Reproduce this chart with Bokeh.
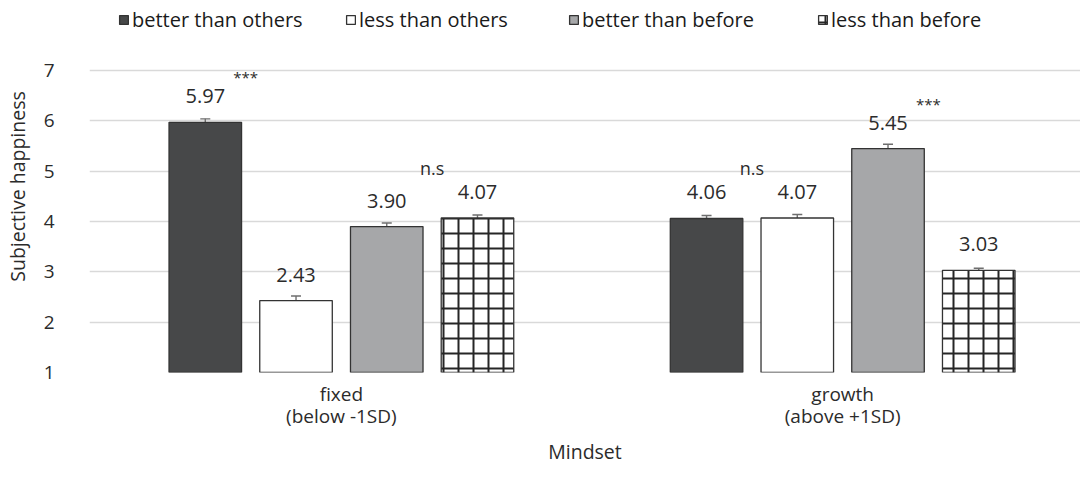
from bokeh.plotting import figure
from bokeh.models import (Range1d, FixedTicker, ColumnDataSource, Whisker, TeeHead,
                          Legend, LegendItem)
from bokeh.core.properties import value
from bokeh.embed import file_html
from bokeh.resources import INLINE

# ---- data ----
categories = ["fixed\n(below -1SD)", "growth\n(above +1SD)"]
series = ["better than others", "less than others", "better than before", "less than before"]
y_ticks = [1, 2, 3, 4, 5, 6, 7]
better_others = [5.97, 4.06]
less_others = [2.43, 4.07]
better_before = [3.90, 5.45]
less_before = [4.07, 3.03]
err_better_others = [0.07, 0.06]
err_less_others = [0.09, 0.07]
err_better_before = [0.07, 0.085]
err_less_before = [0.06, 0.04]
# significance marks: (category index, series index, text)
stars = [(0, 0, "***"), (1, 2, "***")]
# n.s marks between two series within a category
ns_marks = [(0, 2, 3, "n.s"), (1, 0, 1, "n.s")]

values = [better_others, less_others, better_before, less_before]
errors = [err_better_others, err_less_others, err_better_before, err_less_before]

FONT = "Open Sans"
TXT = "#2b2b2b"
fills = ["#474849", "#ffffff", "#a6a7a9", "#ffffff"]
hatches = [None, None, None, "+"]
legend_left = [29, 256, 479, 728]   # screen px from the frame's left edge

step = 0.181
width = 0.1447

def xpos(ci, si):
    return ci + (si - 1.5) * step

H = 479
BOTTOM = 107
FRAME_H = H - BOTTOM            # frame runs from the top of the figure
PX_PER_UNIT = 50.33
y_end = 1 + FRAME_H / PX_PER_UNIT

p = figure(width=1080, height=H, output_backend="svg", toolbar_location=None,
           x_range=Range1d(-0.5025, 1.4745), y_range=Range1d(1, y_end),
           min_border_left=81, min_border_right=0, min_border_top=0, min_border_bottom=BOTTOM)
p.outline_line_color = None
p.background_fill_color = "white"

renderers = []
for si, name in enumerate(series):
    xs = [xpos(ci, si) for ci in range(len(categories))]
    src = ColumnDataSource(dict(x=xs, top=values[si],
                                upper=[v + e for v, e in zip(values[si], errors[si])],
                                lower=[v - e for v, e in zip(values[si], errors[si])],
                                lab=["%.2f" % v for v in values[si]]))
    kw = {}
    if hatches[si]:
        kw = dict(hatch_pattern=hatches[si], hatch_scale=15, hatch_weight=2, hatch_color="#262626")
    r = p.vbar(x="x", top="top", bottom=1, width=width, source=src,
               fill_color=fills[si], line_color="#333333", line_width=1.3, **kw)
    renderers.append(r)
    w = Whisker(base="x", upper="upper", lower="lower", source=src, dimension="height",
                line_color="#6e6e6e", line_width=1.4,
                upper_head=TeeHead(size=10, line_color="#6e6e6e", line_width=1.4),
                lower_head=TeeHead(size=10, line_color="#6e6e6e", line_width=1.4))
    p.add_layout(w)
    p.text(x="x", y="top", text="lab", source=src, text_align="center", text_baseline="middle",
           y_offset=-26, text_font=value(FONT), text_font_size="20px", text_color=TXT)

# stars
sx = [xpos(c, s) for c, s, _ in stars]
sy = [values[s][c] for c, s, _ in stars]
p.text(x=sx, y=sy, text=[t for _, _, t in stars], x_offset=28, y_offset=-45,
       text_align="left", text_baseline="middle", text_font=value(FONT),
       text_font_size="15px", text_color=TXT)

# n.s
nx = [(xpos(c, a) + xpos(c, b)) / 2 for c, a, b, _ in ns_marks]
ny = [max(values[a][c], values[b][c]) for c, a, b, _ in ns_marks]
p.text(x=nx, y=ny, text=[t for *_, t in ns_marks], y_offset=-50,
       text_align="center", text_baseline="middle", text_font=value(FONT),
       text_font_size="18px", text_color=TXT)

# axes
p.xaxis.ticker = FixedTicker(ticks=list(range(len(categories))))
p.xaxis.major_label_overrides = {i: c for i, c in enumerate(categories)}
p.xaxis.axis_label = "Mindset"
p.yaxis.axis_label = "Subjective happiness"
p.yaxis.ticker = FixedTicker(ticks=y_ticks)
for ax in (p.xaxis[0], p.yaxis[0]):
    ax.axis_line_color = None
    ax.major_tick_line_color = None
    ax.minor_tick_line_color = None
    ax.major_tick_out = 0
    ax.major_tick_in = 0
    ax.major_label_text_font = FONT
    ax.major_label_text_font_size = "19px"
    ax.major_label_text_color = TXT
    ax.axis_label_text_font = FONT
    ax.axis_label_text_font_size = "19.5px"
    ax.axis_label_text_font_style = "normal"
    ax.axis_label_text_color = TXT
p.xaxis.major_label_text_line_height = 0.85
p.yaxis.major_label_standoff = 35
p.yaxis.axis_label_standoff = 10
p.xaxis.major_label_standoff = 8
p.xaxis.axis_label_standoff = 6
p.xgrid.grid_line_color = None
p.ygrid.ticker = FixedTicker(ticks=y_ticks)
p.ygrid.grid_line_color = "#d9d9d9"
p.ygrid.grid_line_width = 1.3

for n, r, lx in zip(series, renderers, legend_left):
    legend = Legend(items=[LegendItem(label=n, renderers=[r])],
                    orientation="horizontal", location=(lx, FRAME_H - 33),
                    glyph_width=11, glyph_height=11, label_standoff=3,
                    padding=0, margin=0, border_line_color=None, background_fill_alpha=0,
                    label_text_font=FONT, label_text_font_size="20px", label_text_color="#1a1a1a")
    p.add_layout(legend, "center")

open("out.html", "w").write(file_html(p, INLINE))
